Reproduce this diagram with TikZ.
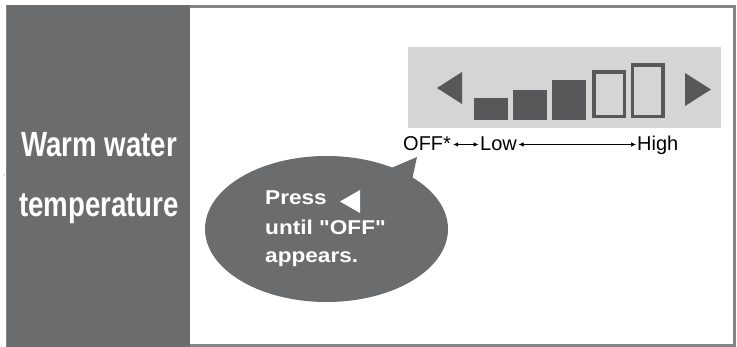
\documentclass[tikz,border=0pt]{standalone}
\usepackage{fontspec}
\setmainfont{Liberation Sans}
\newfontfamily\condbf[FakeStretch=0.79]{Liberation Sans Bold}
\newfontfamily\widebf[FakeStretch=1.13]{Liberation Sans Bold}
\usetikzlibrary{shapes.geometric,arrows.meta}
\definecolor{panelgray}{HTML}{6B6C6E}
\definecolor{framegray}{HTML}{858585}
\definecolor{dispgray}{HTML}{D5D5D5}
\definecolor{bargray}{HTML}{58585A}
\tikzset{
  filledbar/.style={fill=bargray, draw=none, inner sep=0pt, minimum width=34pt, anchor=south west},
  outlinebar/.style={draw=bargray, line width=3.5pt, fill=none, inner sep=0pt, minimum width=30.5pt, anchor=south west},
  paneltext/.style={text=white, font=\condbf\fontsize{35}{40}\selectfont, inner sep=0pt, anchor=base},
  bubbletext/.style={text=white, font=\widebf\fontsize{20}{24}\selectfont, inner sep=0pt, anchor=base west},
  scaletext/.style={text=black, font=\fontsize{20}{24}\selectfont, inner sep=0pt, anchor=base west},
  scalearrow/.style={{Latex[length=5pt,width=4.5pt]}-{Latex[length=5pt,width=4.5pt]}, line width=0.6pt}
}
\begin{document}
\begin{tikzpicture}[x=1pt,y=-1pt]
\useasboundingbox (0,0) rectangle (737,347);
% outer frame
\draw[framegray, line width=3pt] (7,6.5) rectangle (734.5,345.5);
% left panel
\fill[panelgray] (7,5) rectangle (190,347);
\fill[panelgray!80] (4,175) circle (0.7);
\node[paneltext] (t1) at (99,157) {Warm water};
\node[paneltext] (t2) at (99,217) {temperature};
% display box
\node[fill=dispgray, inner sep=0pt, minimum width=313pt, minimum height=81pt, anchor=north west] (disp) at (408,47) {};
\fill[bargray] (437,88) -- (462,72) -- (462,104) -- cycle;
\fill[bargray] (711,89.5) -- (685,73) -- (685,106) -- cycle;
\node[filledbar, minimum height=22pt] (b1) at (474,120) {};
\node[filledbar, minimum height=30pt] (b2) at (513,120) {};
\node[filledbar, minimum height=40pt] (b3) at (552,120) {};
\node[outlinebar, minimum height=44.5pt] (b4) at (592.25,118.25) {};
\node[outlinebar, minimum height=51.5pt] (b5) at (630.75,118.25) {};
% scale labels
\node[scaletext] (off) at (403,151) {OFF*};
\node[scaletext] (low) at (480,151) {Low};
\node[scaletext] (high) at (637,151) {High};
\draw[scalearrow] ([xshift=2pt,yshift=6.5pt]off.base east) -- ([xshift=-1.5pt,yshift=6.5pt]low.base west);
\draw[scalearrow] ([xshift=1.5pt,yshift=6.5pt]low.base east) -- ([xshift=-1pt,yshift=6.5pt]high.base west);
% speech bubble
\node[ellipse, fill=panelgray, inner sep=0pt, minimum width=243pt, minimum height=146pt] (bubble) at (326.5,229) {};
\coordinate (tip) at (417,157);
\fill[panelgray] (bubble.center) -- (bubble.43) -- (tip) -- (bubble.31) -- cycle;
\node[bubbletext] (p1) at (265,205) {Press};
\node[bubbletext] (p2) at (265,235) {until "OFF"};
\node[bubbletext] (p3) at (265,263) {appears.};
\fill[white] (340,201.5) -- (360,190) -- (360,213) -- cycle;
\end{tikzpicture}
\end{document}
